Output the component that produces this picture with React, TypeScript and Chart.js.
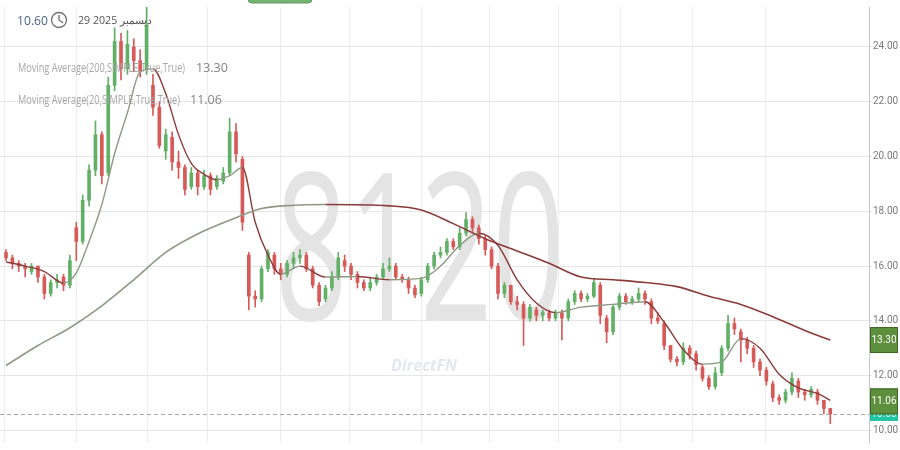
import React, { useEffect, useRef } from "react";
import { Chart, registerables } from "chart.js";
Chart.register(...registerables);

// ---- data (candles, roughly two trading days each) ----
const opens = [
  16.5, 16.3, 16.1, 16.0, 15.8, 16.0, 15.6, 15.0, 15.4, 15.6,
  15.3, 17.4, 16.9, 18.4, 19.5, 20.8, 19.4, 22.6, 24.2, 23.2,
  24.0, 23.5, 23.2, 22.6, 21.8, 20.2, 20.7, 19.8, 19.6, 18.9,
  19.4, 18.9, 19.3, 18.9, 19.1, 19.4, 20.9, 19.9, 16.4, 14.9,
  14.8, 15.9, 16.4, 15.9, 15.7, 16.1, 16.3, 16.4, 15.9, 15.3,
  14.8, 15.2, 15.6, 16.2, 16.0, 15.7, 15.4, 15.2, 15.4, 15.6,
  15.9, 16.0, 15.6, 15.5, 15.2, 15.0, 15.5, 16.0, 16.4, 16.5,
  16.9, 16.7, 17.2, 17.7, 17.4, 17.0, 16.6, 16.0, 15.0, 15.3,
  14.7, 14.6, 14.1, 14.4, 14.2, 14.3, 14.1, 14.3, 14.1, 14.7,
  15.0, 14.8, 14.9, 15.3, 14.1, 13.6, 14.5, 14.9, 14.7, 14.8,
  15.0, 14.7, 14.1, 13.9, 13.1, 12.6, 12.5, 13.0, 12.8, 12.3,
  11.9, 11.6, 12.1, 13.0, 13.9, 13.6, 13.3, 13.0, 12.5, 12.2,
  11.7, 11.2, 11.1, 11.4, 11.8, 11.4, 11.3, 11.4, 11.1, 10.8,
];
const closes = [
  16.3, 16.1, 16.0, 15.9, 16.0, 15.6, 15.0, 15.4, 15.5, 15.3,
  16.2, 16.9, 18.4, 19.5, 20.8, 19.3, 22.6, 24.2, 23.2, 24.1,
  23.5, 23.1, 24.8, 21.8, 20.4, 20.8, 19.8, 19.6, 18.8, 19.4,
  18.9, 19.3, 18.8, 19.2, 19.4, 20.9, 20.1, 17.6, 14.9, 14.8,
  15.9, 16.5, 15.9, 15.7, 16.1, 16.3, 16.4, 15.9, 15.3, 14.7,
  15.2, 15.6, 16.3, 16.0, 15.7, 15.4, 15.2, 15.4, 15.6, 15.9,
  16.0, 15.6, 15.5, 15.2, 14.95, 15.5, 16.0, 16.4, 16.5, 16.9,
  16.7, 17.2, 17.7, 17.4, 17.0, 16.6, 16.0, 15.0, 15.3, 14.7,
  14.6, 14.1, 14.5, 14.2, 14.3, 14.1, 14.3, 14.1, 14.7, 15.0,
  14.8, 14.9, 15.4, 14.2, 13.6, 14.5, 14.9, 14.7, 14.8, 15.0,
  14.8, 14.1, 14.0, 13.1, 12.6, 12.5, 13.0, 12.8, 12.4, 11.9,
  11.6, 12.1, 13.0, 13.9, 13.7, 13.3, 13.0, 12.5, 12.2, 11.8,
  11.2, 11.1, 11.4, 11.9, 11.4, 11.3, 11.5, 11.1, 10.8, 10.6,
];
const highs = [
  16.6, 16.4, 16.2, 16.1, 16.1, 16.0, 15.7, 15.5, 15.7, 15.7,
  16.4, 17.6, 18.6, 19.7, 21.3, 20.9, 22.9, 24.7, 24.5, 24.6,
  24.3, 23.9, 25.5, 23.0, 22.0, 21.0, 20.9, 20.2, 19.7, 19.6,
  19.5, 19.5, 19.4, 19.3, 19.6, 21.4, 21.2, 20.0, 16.5, 15.1,
  16.0, 16.6, 16.5, 16.1, 16.2, 16.5, 16.6, 16.5, 16.0, 15.4,
  15.3, 15.8, 16.5, 16.4, 16.1, 15.8, 15.5, 15.6, 15.7, 16.1,
  16.3, 16.1, 15.7, 15.6, 15.3, 15.6, 16.1, 16.5, 16.7, 17.0,
  17.0, 17.4, 17.95, 17.8, 17.5, 17.1, 16.7, 16.1, 15.4, 15.3,
  14.9, 14.7, 14.6, 14.5, 14.4, 14.4, 14.4, 14.4, 14.8, 15.1,
  15.1, 15.0, 15.55, 15.4, 14.2, 14.6, 15.0, 15.0, 14.9, 15.2,
  15.1, 14.8, 14.3, 14.0, 13.1, 12.7, 13.2, 13.1, 12.9, 12.4,
  12.0, 12.3, 13.1, 14.2, 14.1, 13.7, 13.4, 13.1, 12.6, 12.3,
  11.8, 11.3, 11.5, 12.1, 11.9, 11.5, 11.6, 11.5, 11.1, 10.8,
];
const lows = [
  16.2, 15.9, 15.8, 15.6, 15.7, 15.4, 14.8, 14.9, 15.2, 15.1,
  15.2, 16.2, 16.8, 18.2, 19.3, 19.0, 19.3, 22.4, 22.8, 23.0,
  23.1, 22.9, 23.0, 21.5, 20.3, 19.9, 19.5, 19.2, 18.6, 18.8,
  18.6, 18.8, 18.6, 18.8, 19.0, 19.3, 19.8, 17.3, 14.4, 14.5,
  14.7, 15.8, 15.7, 15.5, 15.6, 15.9, 16.1, 15.8, 15.2, 14.55,
  14.7, 15.1, 15.5, 15.8, 15.5, 15.2, 15.1, 15.1, 15.3, 15.5,
  15.8, 15.5, 15.4, 15.0, 14.85, 14.9, 15.4, 15.9, 16.3, 16.4,
  16.6, 16.6, 17.1, 17.2, 16.8, 16.4, 15.9, 14.8, 14.85, 14.6,
  14.4, 13.1, 14.0, 14.0, 14.0, 14.0, 14.0, 13.3, 14.0, 14.6,
  14.7, 14.7, 14.85, 13.9, 13.2, 13.5, 14.4, 14.6, 14.6, 14.7,
  14.6, 13.9, 13.9, 12.95, 12.5, 12.35, 12.4, 12.6, 12.2, 11.8,
  11.5, 11.5, 12.0, 12.9, 13.5, 12.5, 12.8, 12.3, 12.0, 11.65,
  11.05, 10.95, 11.0, 11.3, 11.2, 11.1, 11.2, 10.95, 10.6, 10.25,
];

// moving averages read at selected candle positions
const ma200Idx = [0, 5, 10, 15, 20, 25, 30, 35, 40, 45, 50, 60, 65, 70, 75, 80, 85, 90, 95, 100, 105, 110, 115, 120, 125, 129];
const ma200Val = [12.37, 13.1, 13.75, 14.55, 15.5, 16.5, 17.17, 17.67, 18.1, 18.22, 18.25, 18.2, 18.05, 17.55, 17.0, 16.55, 16.1, 15.6, 15.5, 15.4, 15.25, 14.9, 14.6, 14.15, 13.65, 13.3];
const ma20Idx = [0, 3, 6, 9, 11, 13, 15, 17, 19, 21, 23, 25, 27, 29, 31, 33, 35, 37, 39, 41, 43, 46, 50, 55, 60, 65, 68, 71, 74, 77, 80, 83, 86, 90, 95, 100, 103, 106, 109, 112, 115, 118, 121, 124, 127, 129];
const ma20Val = [16.15, 16.0, 15.8, 15.38, 15.75, 16.9, 18.25, 20.1, 21.6, 23.1, 23.2, 22.3, 20.8, 19.75, 19.35, 19.15, 19.3, 19.6, 17.6, 16.4, 15.7, 16.0, 15.6, 15.62, 15.5, 15.55, 16.0, 16.75, 17.2, 16.75, 15.5, 14.65, 14.3, 14.5, 14.6, 14.7, 13.95, 12.95, 12.42, 12.5, 13.35, 13.0, 12.05, 11.55, 11.35, 11.1];

const monthTicks = [-0.16, 11.1, 22.2, 31.5, 42.9, 53.8, 65.1, 75.6, 86.4, 96.2, 107.5, 118.8];
const yTicks = [10, 12, 14, 16, 18, 20, 22, 24];

const symbol = "8120";
const brand = "DirectFN";
const lastPrice = "10.60";
const dateText = "29 ديسمبر 2025";
const ma200Label = "Moving Average(200,SIMPLE,True,True)";
const ma20Label = "Moving Average(20,SIMPLE,True,True)";
const ma200Last = "13.30";
const ma20Last = "11.06";

const UP = "#62b066";
const DOWN = "#d65a58";
const MA_UP = "#8e9a84";
const MA_DOWN = "#8c3b3b";

export default function App() {
  const ref = useRef<HTMLCanvasElement | null>(null);

  useEffect(() => {
    document.body.style.margin = "0";
    const canvas = ref.current!;
    const candleColor = (c: any) => {
      const i = c.dataIndex;
      return closes[i] >= opens[i] ? UP : DOWN;
    };

    const overlay = {
      id: "overlay",
      beforeDraw(chart: any) {
        const ctx = chart.ctx;
        ctx.save();
        ctx.fillStyle = "#ffffff";
        ctx.fillRect(0, 0, chart.width, chart.height);
        // watermark
        ctx.font = "400 206px 'Open Sans'";
        ctx.fillStyle = "#e4e4e4";
        ctx.textBaseline = "alphabetic";
        const w = ctx.measureText(symbol).width;
        const target = 290;
        ctx.translate(420, 320);
        ctx.scale(target / w, 1);
        ctx.textAlign = "center";
        ctx.fillText(symbol, 0, 0);
        ctx.restore();
        ctx.save();
        ctx.font = "italic bold 16px 'Open Sans'";
        ctx.fillStyle = "#e3e7ee";
        ctx.textAlign = "center";
        ctx.textBaseline = "middle";
        ctx.fillText(brand, 424, 366);
        ctx.restore();
      },
      afterDraw(chart: any) {
        const ctx = chart.ctx;
        const ys = chart.scales.y;
        const area = chart.chartArea;
        ctx.save();
        // dashed last price line
        const yLast = ys.getPixelForValue(closes[closes.length - 1]);
        ctx.strokeStyle = "#a8a8a8";
        ctx.lineWidth = 1;
        ctx.setLineDash([4, 3]);
        ctx.beginPath();
        ctx.moveTo(area.left, Math.round(yLast) + 0.5);
        ctx.lineTo(area.right, Math.round(yLast) + 0.5);
        ctx.stroke();
        ctx.setLineDash([]);

        // top button sliver
        ctx.fillStyle = "#74b474";
        ctx.strokeStyle = "#5a9a5a";
        ctx.beginPath();
        (ctx as any).roundRect(248, -20, 64, 23, 4);
        ctx.fill();
        ctx.stroke();

        // title
        ctx.textBaseline = "middle";
        ctx.textAlign = "left";
        ctx.font = "13px 'Open Sans'";
        ctx.fillStyle = "#4a6688";
        ctx.fillText(lastPrice, 17, 21, 31);
        ctx.strokeStyle = "#6f6f6f";
        ctx.lineWidth = 1.3;
        ctx.beginPath();
        ctx.arc(59, 20, 7.5, 0, Math.PI * 2);
        ctx.stroke();
        ctx.beginPath();
        ctx.moveTo(59, 15);
        ctx.lineTo(59, 20);
        ctx.lineTo(63, 23);
        ctx.stroke();
        ctx.font = "11px 'Open Sans'";
        ctx.fillStyle = "#555555";
        ctx.fillText(dateText, 78, 21, 74);

        // legend
        ctx.font = "12.5px 'Open Sans'";
        ctx.fillStyle = "#a6a6a6";
        ctx.fillText(ma200Label, 18, 68, 167);
        ctx.fillText(ma20Label, 18, 100, 162);
        ctx.fillStyle = "#858585";
        ctx.fillText(ma200Last, 196, 68);
        ctx.fillText(ma20Last, 190, 100);

        // right price boxes
        const box = (val: string, cy: number, fill: string, stroke: string) => {
          ctx.fillStyle = fill;
          ctx.strokeStyle = stroke;
          ctx.lineWidth = 1;
          ctx.fillRect(870, cy - 13, 28, 26);
          ctx.strokeRect(870.5, cy - 12.5, 27, 25);
          ctx.fillStyle = "#ffffff";
          ctx.font = "10px Roboto";
          ctx.textAlign = "center";
          ctx.fillText(val, 884, cy);
          ctx.textAlign = "left";
        };
        const yTeal = ys.getPixelForValue(parseFloat(lastPrice));
        ctx.fillStyle = "#22c2a4";
        ctx.fillRect(870, yTeal - 6, 28, 13);
        ctx.fillStyle = "#d8fff5";
        ctx.font = "10px Roboto";
        ctx.textAlign = "center";
        ctx.fillText(lastPrice, 884, yTeal + 1);
        ctx.textAlign = "left";
        box(ma200Last, ys.getPixelForValue(parseFloat(ma200Last)), "#5d8f3c", "#3e6a28");
        box(ma20Last, ys.getPixelForValue(parseFloat(ma20Last)), "#5d8f3c", "#3e6a28");
        ctx.restore();
      },
    };

    const segColor = (c: any) => (c.p1.parsed.y >= c.p0.parsed.y ? MA_UP : MA_DOWN);

    const chart = new Chart(canvas, {
      type: "bar",
      data: {
        datasets: [
          {
            type: "line",
            label: ma200Label,
            data: ma200Idx.map((x, k) => ({ x, y: ma200Val[k] })),
            borderColor: MA_DOWN,
            borderWidth: 1.6,
            pointRadius: 0,
            cubicInterpolationMode: "monotone",
            segment: { borderColor: segColor },
            order: 0,
          } as any,
          {
            type: "line",
            label: ma20Label,
            data: ma20Idx.map((x, k) => ({ x, y: ma20Val[k] })),
            borderColor: MA_DOWN,
            borderWidth: 1.4,
            pointRadius: 0,
            cubicInterpolationMode: "monotone",
            segment: { borderColor: segColor },
            order: 0,
          } as any,
          {
            type: "bar",
            label: "wick",
            data: closes.map((_, i) => ({ x: i, y: [lows[i], highs[i]] })),
            backgroundColor: candleColor,
            barThickness: 1,
            grouped: false,
            order: 2,
          } as any,
          {
            type: "bar",
            label: "body",
            data: closes.map((_, i) => ({ x: i, y: [opens[i], closes[i]] })),
            backgroundColor: candleColor,
            barThickness: 3,
            minBarLength: 1,
            grouped: false,
            order: 1,
          } as any,
        ],
      },
      options: {
        responsive: false,
        animation: false,
        events: [],
        layout: { padding: 0 },
        plugins: { legend: { display: false }, tooltip: { enabled: false } },
        scales: {
          x: {
            type: "linear",
            offset: false,
            min: -0.939,
            max: 135.06,
            afterBuildTicks: (axis: any) => {
              axis.ticks = monthTicks.map((v) => ({ value: v }));
            },
            afterFit: (axis: any) => {
              axis.height = 0;
            },
            ticks: { display: false },
            grid: { color: "#ececec", drawTicks: false, offset: false },
            border: { display: false },
          },
          y: {
            position: "right",
            min: 9.54,
            max: 25.46,
            afterBuildTicks: (axis: any) => {
              axis.ticks = yTicks.map((v) => ({ value: v }));
            },
            afterFit: (axis: any) => {
              axis.width = 31;
            },
            grid: { color: "#e6e6e6", tickLength: 3 },
            border: { display: true, color: "#c9c9c9" },
            ticks: {
              color: "#7a7a7a",
              padding: 1,
              font: { family: "Roboto", size: 10 },
              callback: (v: any) => Number(v).toFixed(2),
            },
          },
        },
      } as any,
      plugins: [overlay],
    });
    return () => chart.destroy();
  }, []);

  return (
    <div style={{ position: "fixed", left: 0, top: 0, width: 900, height: 450, background: "#fff" }}>
      <canvas ref={ref} width={900} height={450} style={{ width: 900, height: 450, display: "block" }} />
    </div>
  );
}
